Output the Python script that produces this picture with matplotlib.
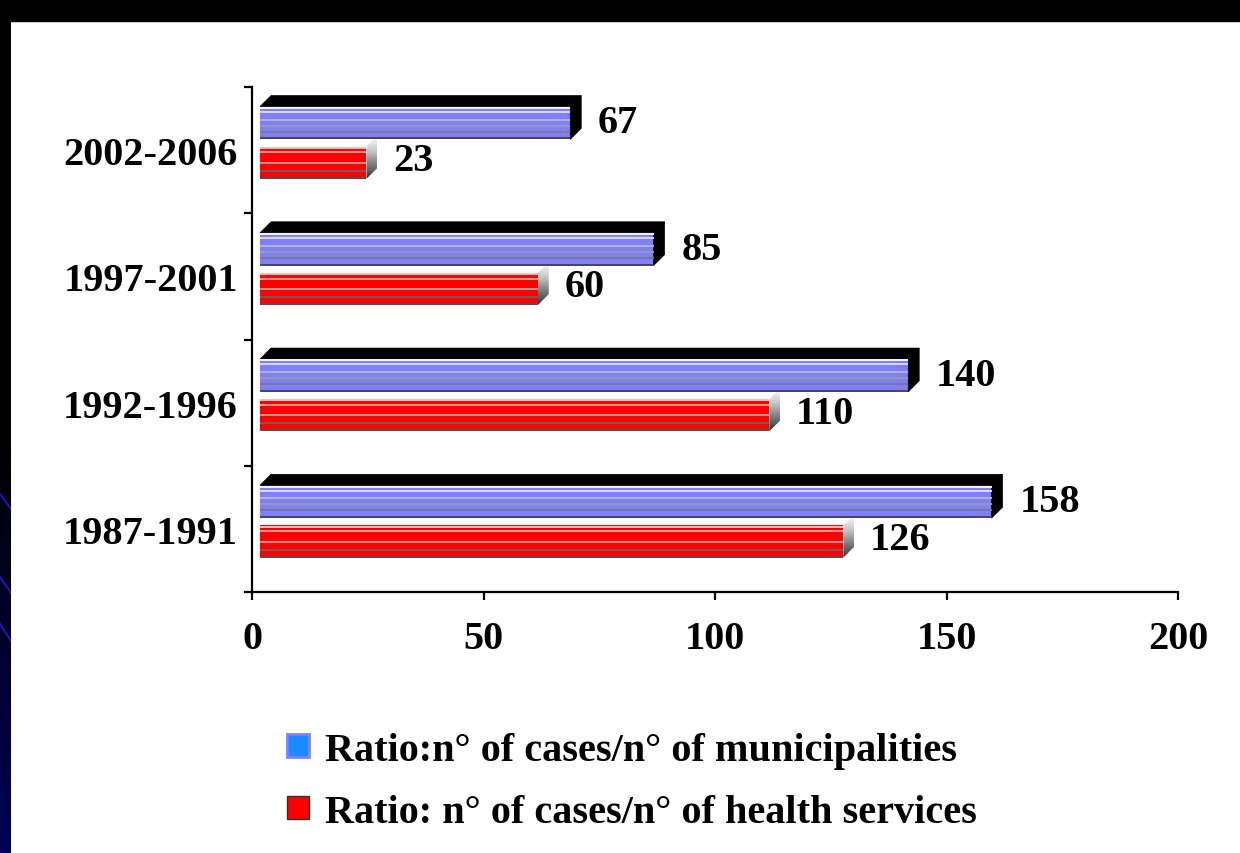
import numpy as np
import matplotlib.pyplot as plt
from matplotlib.patches import Polygon, Rectangle
from matplotlib.colors import LinearSegmentedColormap

periods = ["1987-1991", "1992-1996", "1997-2001", "2002-2006"]
municipalities = [158, 140, 85, 67]
health_services = [126, 110, 60, 23]
legend_labels = ["Ratio:n° of cases/n° of municipalities",
                 "Ratio: n° of cases/n° of health services"]
xticks = [0, 50, 100, 150, 200]

plt.rcParams['font.family'] = ['Liberation Serif', 'DejaVu Serif']
plt.rcParams['font.weight'] = 'bold'
FS = 29

W, H = 1240, 854
fig = plt.figure(figsize=(W / 100, H / 100), dpi=100)
fig.patch.set_facecolor('white')

# slide frame: black top band, dark left band fading to navy
fig.add_artist(Rectangle((0, 1 - 22 / H), 1, 22 / H, transform=fig.transFigure,
                         color='black', zorder=0))
strip = fig.add_axes([0, 0, 11 / W, 1])
navy = LinearSegmentedColormap.from_list('navy', ['black', 'black', '#000058'])
strip.imshow(np.linspace(0, 1, 256).reshape(-1, 1), cmap=navy, aspect='auto',
             extent=[0, 1, H, 0])
for y_a, y_b in [(495, 510), (578, 594), (625, 642)]:
    strip.plot([0, 1], [y_a, y_b], color='#1818b0', lw=1.5)
strip.set_xlim(0, 1)
strip.set_ylim(H, 0)
strip.axis('off')

ax = fig.add_axes([252 / W, 1 - 593 / H, 926 / W, 505 / H])
ax.set_xlim(0, 200)
ax.set_ylim(-0.5, len(periods) - 0.5)

ux = 200 / 926   # data units per pixel, x
uy = 4 / 505     # data units per pixel, y
off = 8 * ux
dx, dy = 11 * ux, 11 * uy

y = np.arange(len(periods))
b1 = ax.barh(y + 0.215, municipalities, height=0.26, left=off,
             color='#8080ff', zorder=3)
b2 = ax.barh(y - 0.10, health_services, height=0.255, left=off,
             color='#ff0000', zorder=3)

blue_stripes = [(0.04, 'white'), (0.16, '#e0e0ff'), (0.4, '#b8b8c8'),
                (0.58, '#9a9aa8'), (0.76, '#787888'), (0.97, '#404050')]
red_stripes = [(0.04, '#ffd0d0'), (0.18, '#ffa0a0'), (0.5, '#b0a0a0'),
               (0.75, '#706060'), (0.97, '#505050')]

grad = np.linspace(0.05, 0.85, 64).reshape(-1, 1)

for r in b1:
    x0, y0 = r.get_x(), r.get_y()
    x1, y1 = x0 + r.get_width(), y0 + r.get_height()
    ax.add_patch(Polygon([(x0, y1), (x0 + dx, y1 + dy), (x1 + dx, y1 + dy), (x1, y1)],
                         facecolor='black', edgecolor='black', lw=0.5, zorder=3))
    ax.add_patch(Polygon([(x1, y0), (x1, y1), (x1 + dx, y1 + dy), (x1 + dx, y0 + dy)],
                         facecolor='black', edgecolor='black', lw=0.5, zorder=3))
    for frac, c in blue_stripes:
        ax.hlines(y1 - frac * (y1 - y0), x0, x1, color=c, lw=1.3, zorder=4)

for r in b2:
    x0, y0 = r.get_x(), r.get_y()
    x1, y1 = x0 + r.get_width(), y0 + r.get_height()
    side = Polygon([(x1, y0), (x1, y1), (x1 + dx, y1 + dy), (x1 + dx, y0 + dy)],
                   facecolor='none', edgecolor='none')
    ax.add_patch(side)
    im = ax.imshow(grad, cmap='Greys', vmin=0, vmax=1, aspect='auto',
                   extent=[x1, x1 + dx, y0, y1 + dy], zorder=2.5)
    im.set_clip_path(side)
    for frac, c in red_stripes:
        ax.hlines(y1 - frac * (y1 - y0), x0, x1, color=c, lw=1.3, zorder=4)

ax.set_xlim(0, 200)
ax.set_ylim(-0.5, len(periods) - 0.5)
ax.set_aspect('auto')

for r, v in zip(b1, municipalities):
    ax.annotate(str(v), xy=(r.get_x() + r.get_width(), r.get_y() + r.get_height() / 2),
                xytext=(20, 0), textcoords='offset points', va='center', ha='left',
                fontsize=FS, fontweight='bold')
for r, v in zip(b2, health_services):
    ax.annotate(str(v), xy=(r.get_x() + r.get_width(), r.get_y() + r.get_height() / 2),
                xytext=(19, 1.5), textcoords='offset points', va='center', ha='left',
                fontsize=FS, fontweight='bold')

for s in ['top', 'right']:
    ax.spines[s].set_visible(False)
for s in ['left', 'bottom']:
    ax.spines[s].set_linewidth(1.6)

ax.set_yticks(np.arange(len(periods) + 1) - 0.5)
ax.set_yticklabels([])
ax.set_yticks(y, minor=True)
ax.set_yticklabels(periods, minor=True, fontsize=FS, fontweight='bold')
ax.tick_params(axis='y', which='major', length=6, width=1.6, direction='out')
ax.tick_params(axis='y', which='minor', length=0, pad=10)
ax.set_xticks(xticks)
ax.set_xticklabels([str(t) for t in xticks], fontsize=FS, fontweight='bold')
ax.tick_params(axis='x', length=6, width=1.6, pad=14)
ax.patch.set_alpha(0)

handles = [Rectangle((0, 0), 1, 1, facecolor='#1a8cff', edgecolor='#8080ff', lw=2),
           Rectangle((0, 0), 1, 1, facecolor='#ff0000', edgecolor='#303030', lw=1)]
fig.legend(handles, legend_labels, loc='upper left',
           bbox_to_anchor=(287 / W, 1 - 733 / H), frameon=False, fontsize=FS,
           handlelength=0.55, handleheight=0.5, handletextpad=0.4,
           labelspacing=0.62, borderpad=0, borderaxespad=0)

fig.savefig('out.png', dpi=100, facecolor=fig.get_facecolor())
